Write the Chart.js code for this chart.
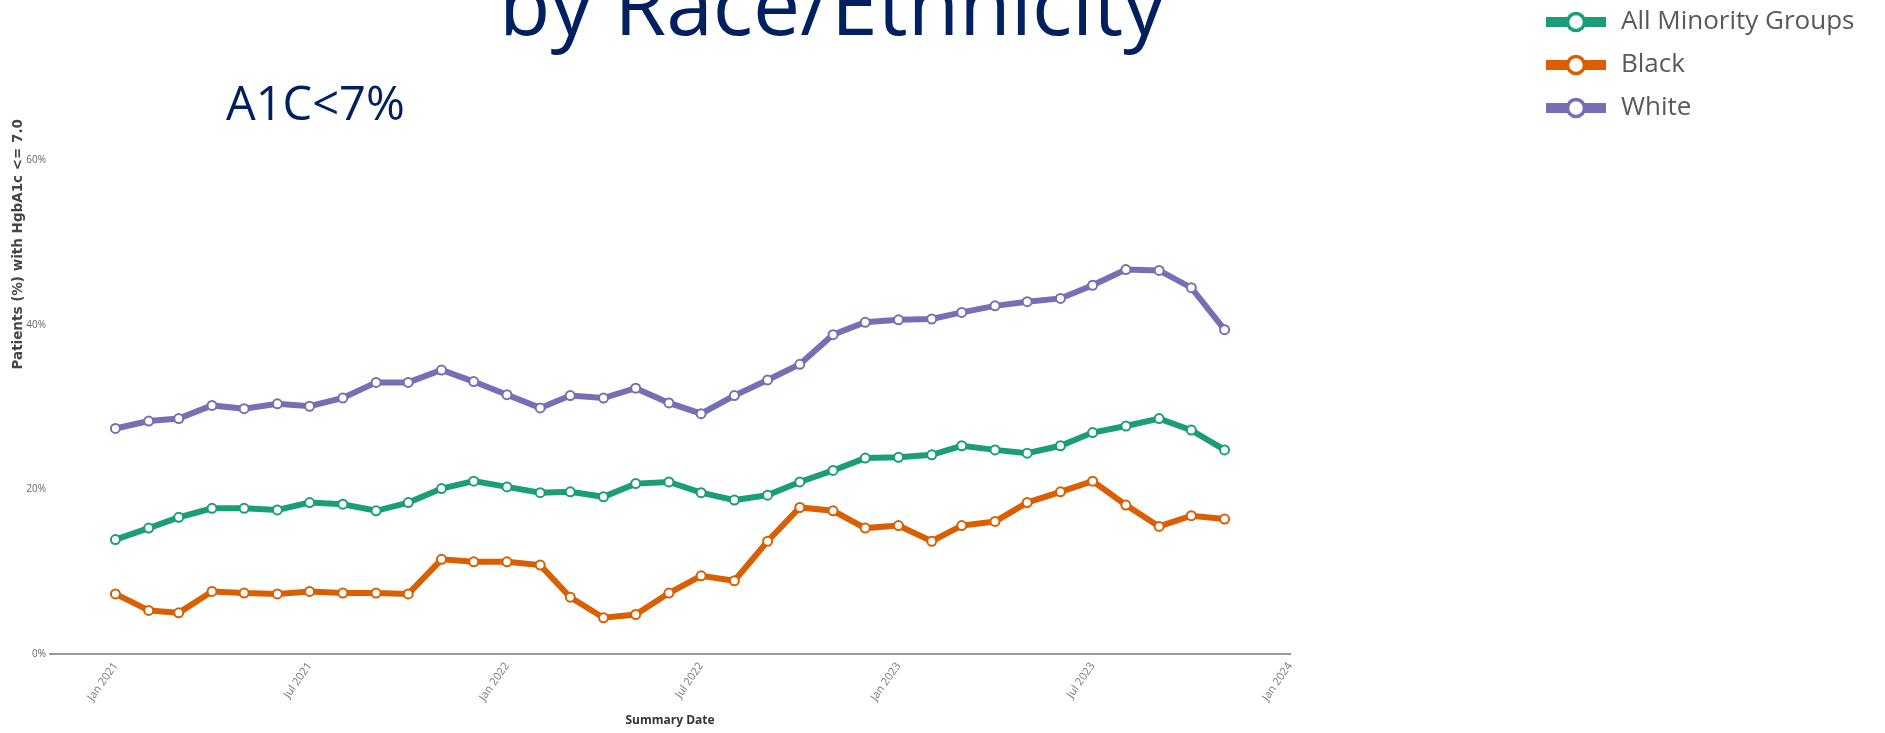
<!DOCTYPE html>
<html>
<head>
<meta charset="utf-8">
<title>A1C&lt;7% by Race/Ethnicity</title>
<script src="https://cdn.jsdelivr.net/npm/chart.js@4.4.1/dist/chart.umd.min.js"></script>
<style>
  html, body { margin: 0; padding: 0; background: #fff; overflow: hidden; }
  #wrap { position: relative; width: 1885px; height: 733px; }
  #chartBox { position: absolute; left: 0; top: 0; width: 1885px; height: 733px; }
  .slideText { position: absolute; color: #002060; font-family: "Open Sans", sans-serif; white-space: nowrap; }
  #pageTitle { left: 499px; top: -39px; font-size: 84px; line-height: 84px; }
  #subTitle { left: 226px; top: 79px; font-size: 47px; line-height: 47px; }
</style>
</head>
<body>
<div id="wrap">
  <div id="chartBox"><canvas id="chart"></canvas></div>
  <div class="slideText" id="pageTitle">by Race/Ethnicity</div>
  <div class="slideText" id="subTitle">A1C&lt;7%</div>
</div>
<script>
// monthly summary dates
const months = [
  "2021-01", "2021-02", "2021-03", "2021-04", "2021-05", "2021-06",
  "2021-07", "2021-08", "2021-09", "2021-10", "2021-11", "2021-12",
  "2022-01", "2022-02", "2022-03", "2022-04", "2022-05", "2022-06",
  "2022-07", "2022-08", "2022-09", "2022-10", "2022-11", "2022-12",
  "2023-01", "2023-02", "2023-03", "2023-04", "2023-05", "2023-06",
  "2023-07", "2023-08", "2023-09", "2023-10", "2023-11"
];

// % of patients with HgbA1c <= 7.0
const allMinority = [
  13.9, 15.3, 16.6, 17.7, 17.7, 17.5, 18.4, 18.2, 17.4, 18.4, 20.1, 21.0,
  20.3, 19.6, 19.7, 19.1, 20.7, 20.9, 19.6, 18.7, 19.3, 20.9, 22.3, 23.8,
  23.9, 24.2, 25.3, 24.8, 24.4, 25.3, 26.9, 27.7, 28.6, 27.2, 24.8
];
const black = [
  7.3, 5.3, 5.0, 7.6, 7.4, 7.3, 7.6, 7.4, 7.4, 7.3, 11.5, 11.2,
  11.2, 10.8, 6.9, 4.4, 4.8, 7.4, 9.5, 8.9, 13.7, 17.8, 17.4, 15.3,
  15.6, 13.7, 15.6, 16.1, 18.4, 19.7, 21.0, 18.1, 15.5, 16.8, 16.4
];
const white = [
  27.4, 28.3, 28.6, 30.2, 29.8, 30.4, 30.1, 31.1, 33.0, 33.0, 34.5, 33.1,
  31.5, 29.9, 31.4, 31.1, 32.3, 30.5, 29.2, 31.4, 33.3, 35.2, 38.8, 40.3,
  40.6, 40.7, 41.5, 42.3, 42.8, 43.2, 44.8, 46.7, 46.6, 44.5, 39.4
];

const seriesNames = ["All Minority Groups", "Black", "White"];
const seriesColors = ["#1b9e77", "#d95f02", "#7570b3"];

const xTickMonths = ["2021-01", "2021-07", "2022-01", "2022-07", "2023-01", "2023-07", "2024-01"];
const xTickLabels = ["Jan 2021", "Jul 2021", "Jan 2022", "Jul 2022", "Jan 2023", "Jul 2023", "Jan 2024"];
const yTicks = [0, 20, 40, 60];

function toTime(ym) {
  const [y, m] = ym.split("-").map(Number);
  return Date.UTC(y, m - 1, 1);
}

function points(values) {
  return months.map((m, i) => ({ x: toTime(m), y: values[i] }));
}

// legend marker: thick line with a hollow dot in the middle
function legendMarker(color) {
  const c = document.createElement("canvas");
  c.width = 60;
  c.height = 24;
  const g = c.getContext("2d");
  g.fillStyle = color;
  g.fillRect(0, 7, 60, 10);
  g.beginPath();
  g.arc(30, 12, 8.5, 0, Math.PI * 2);
  g.fillStyle = "#fff";
  g.fill();
  g.lineWidth = 3.5;
  g.strokeStyle = color;
  g.stroke();
  return c;
}

// put the legend up in the top-right corner, outside the plot
const legendSpot = {
  id: "legendSpot",
  afterLayout(chart) {
    const lg = chart.legend;
    if (!lg) return;
    lg.left = 1527;
    lg.top = -8;
    lg.right = 1885;
    lg.bottom = 160;
    lg.width = lg.right - lg.left;
    lg.height = lg.bottom - lg.top;
  }
};

const series = [allMinority, black, white];

const ctx = document.getElementById("chart").getContext("2d");
new Chart(ctx, {
  type: "line",
  data: {
    datasets: series.map((vals, i) => ({
      label: seriesNames[i],
      data: points(vals),
      borderColor: seriesColors[i],
      backgroundColor: seriesColors[i],
      borderWidth: 6,
      pointRadius: 4.5,
      pointBorderWidth: 2,
      pointBackgroundColor: "#fff",
      pointBorderColor: seriesColors[i],
      tension: 0
    }))
  },
  options: {
    responsive: true,
    maintainAspectRatio: false,
    animation: false,
    layout: { padding: { top: 119, right: 595, left: 0, bottom: 0 } },
    plugins: {
      tooltip: { enabled: false },
      legend: {
        position: "chartArea",
        align: "start",
        labels: {
          usePointStyle: true,
          pointStyleWidth: 64,
          padding: 17,
          color: "#595959",
          font: { family: "Open Sans", size: 26 },
          generateLabels: (chart) => chart.data.datasets.map((ds, i) => ({
            text: ds.label,
            pointStyle: legendMarker(seriesColors[i]),
            fillStyle: seriesColors[i],
            strokeStyle: seriesColors[i],
            lineWidth: 0,
            fontColor: "#595959",
            hidden: false,
            datasetIndex: i
          }))
        }
      }
    },
    scales: {
      x: {
        type: "linear",
        min: Date.UTC(2020, 10, 1),
        max: toTime("2024-01"),
        grid: { display: false, drawTicks: false },
        border: { display: true, color: "#999", width: 2 },
        afterFit: (scale) => { scale.height = 79; },
        afterBuildTicks: (scale) => {
          scale.ticks = xTickMonths.map(m => ({ value: toTime(m) }));
        },
        ticks: {
          autoSkip: false,
          minRotation: 55,
          maxRotation: 55,
          padding: 6,
          color: "#777",
          font: { family: "Open Sans", size: 11 },
          callback: (value, index) => xTickLabels[index]
        },
        title: {
          display: true,
          text: "Summary Date",
          color: "#333",
          padding: { top: 0, bottom: 5 },
          font: { family: "Open Sans", size: 12, weight: "bold" }
        }
      },
      y: {
        min: 0,
        max: 65,
        grid: { display: false, drawTicks: false },
        border: { display: false },
        afterFit: (scale) => { scale.width = 50; },
        afterBuildTicks: (scale) => {
          scale.ticks = yTicks.map(v => ({ value: v }));
        },
        ticks: {
          padding: 4,
          color: "#666",
          font: { family: "Open Sans", size: 10 },
          callback: (v) => v + "%"
        },
        title: {
          display: true,
          text: "Patients (%) with HgbA1c <= 7.0",
          align: "end",
          color: "#444",
          padding: { top: 10, bottom: 0 },
          font: { family: "DejaVu Sans", size: 13.5, weight: "bold" }
        }
      }
    }
  },
  plugins: [legendSpot]
});
</script>
</body>
</html>
